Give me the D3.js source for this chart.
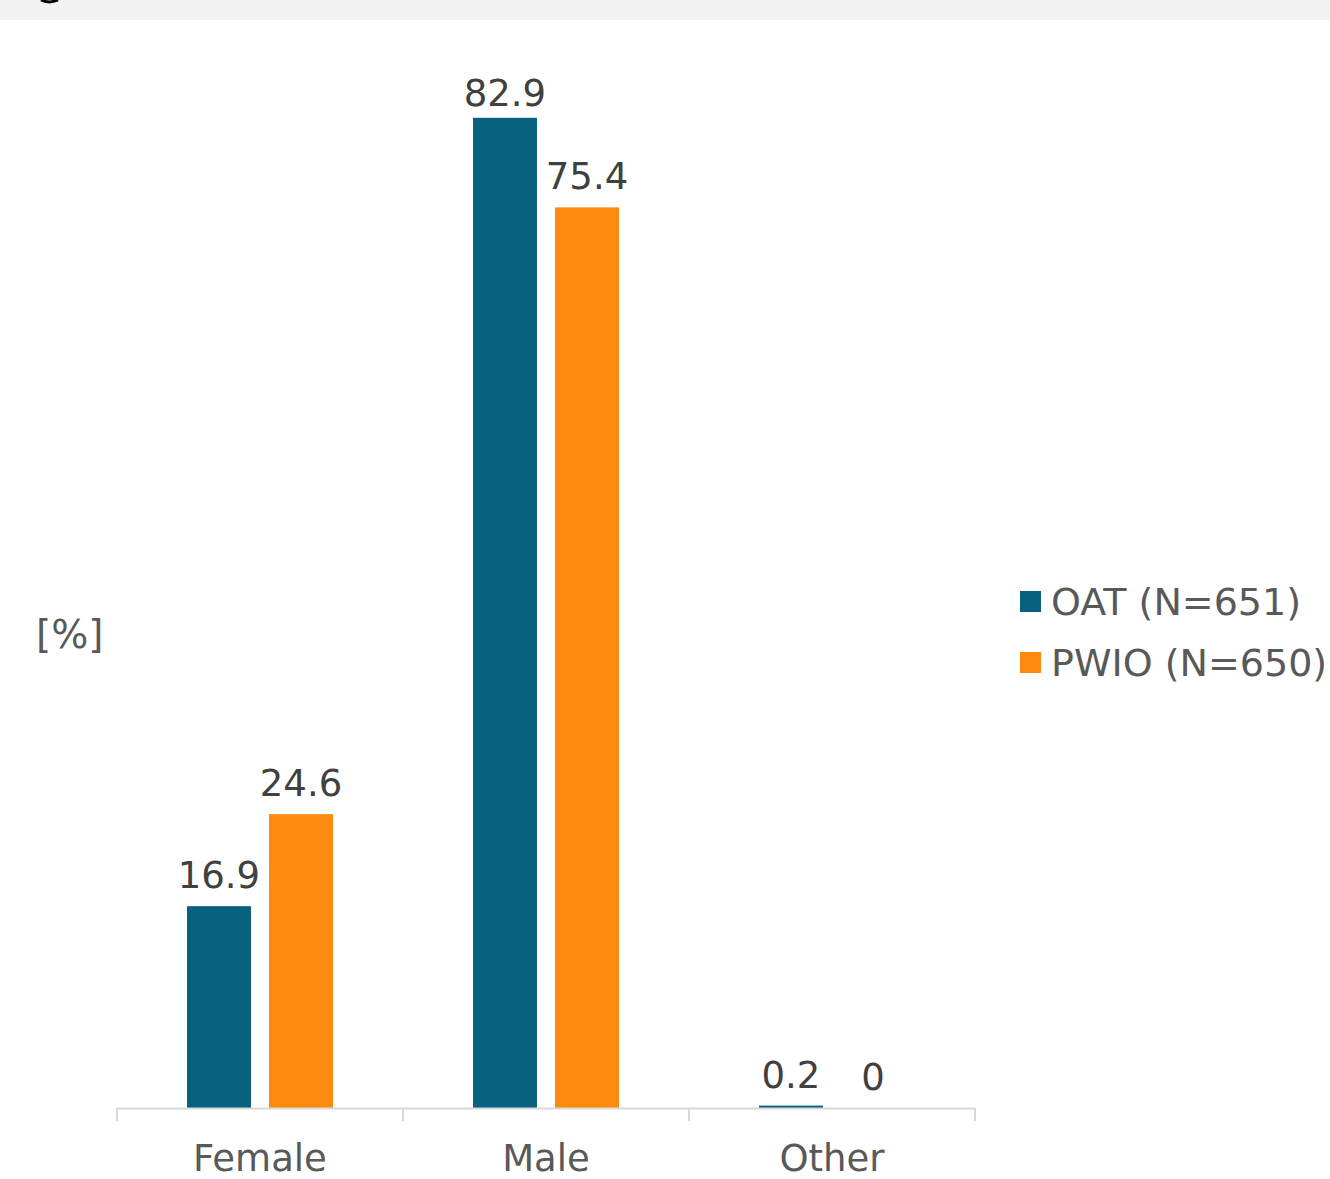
<!DOCTYPE html>
<html>
<head>
<meta charset="utf-8">
<script src="https://cdn.jsdelivr.net/npm/d3@7"></script>
<style>
	body { margin: 0; background: #fff; }
	svg { display: block; font-family: "DejaVu Sans", Verdana, sans-serif; }
</style>
</head>
<body>
<div id="graph"></div>
<script>
var width = 1330
var height = 1179

var categories = ["Female", "Male", "Other"];
var seriesNames = ["OAT (N=651)", "PWIO (N=650)"];
var oatValues = [16.9, 82.9, 0.2];
var pwioValues = [24.6, 75.4, 0];
var valueLabels = [["16.9", "82.9", "0.2"], ["24.6", "75.4", "0"]];
var colors = ["#08627f", "#ff8a10"];

var svg = d3.select("#graph")
	.append("svg")
	.attr("width", width)
	.attr("height", height);

// grey band at the top (cut off title)
svg.append("rect")
	.attr("x", 0)
	.attr("y", 0)
	.attr("width", width)
	.attr("height", 20)
	.attr("fill", "#f2f2f2");

svg.append("path")
	.attr("d", "M41,0 Q49,4 58,0")
	.attr("fill", "none")
	.attr("stroke", "#000")
	.attr("stroke-width", 3);

var x = d3.scaleBand()
	.domain(categories)
	.range([117, 975]);

var x1 = d3.scaleBand()
	.domain([0, 1])
	.range([70, 216])
	.paddingInner(0.22);

var y = d3.scaleLinear()
	.domain([0, 90])
	.range([1108, 33]);

var data = [];
categories.forEach((c, i) => {
	data.push({ cat: c, s: 0, v: oatValues[i], label: valueLabels[0][i] });
	data.push({ cat: c, s: 1, v: pwioValues[i], label: valueLabels[1][i] });
});

svg.selectAll("rect.bar")
	.data(data)
	.enter()
	.append("rect")
	.attr("class", "bar")
	.attr("x", (d) => x(d.cat) + x1(d.s))
	.attr("y", (d) => y(d.v))
	.attr("width", x1.bandwidth())
	.attr("height", (d) => y(0) - y(d.v))
	.attr("fill", (d) => colors[d.s]);

svg.selectAll("text.val")
	.data(data)
	.enter()
	.append("text")
	.attr("class", "val")
	.attr("x", (d) => x(d.cat) + x1(d.s) + x1.bandwidth() / 2)
	.attr("y", (d) => Math.max(y(d.v) - 18, 106))
	.attr("text-anchor", "middle")
	.attr("font-size", 37)
	.attr("fill", "#404040")
	.text((d) => d.label);

// axis
var axis = svg.append("g");
axis.append("line")
	.attr("x1", 117)
	.attr("x2", 975)
	.attr("y1", y(0) + 0.5)
	.attr("y2", y(0) + 0.5)
	.attr("stroke", "#d9d9d9")
	.attr("stroke-width", 2);

var tickPos = categories.map((c) => x(c)).concat([x.range()[1]]);
axis.selectAll("line.tick")
	.data(tickPos)
	.enter()
	.append("line")
	.attr("class", "tick")
	.attr("x1", (d) => d)
	.attr("x2", (d) => d)
	.attr("y1", y(0))
	.attr("y2", y(0) + 13)
	.attr("stroke", "#d9d9d9")
	.attr("stroke-width", 2);

axis.selectAll("text.cat")
	.data(categories)
	.enter()
	.append("text")
	.attr("class", "cat")
	.attr("x", (d) => x(d) + x.bandwidth() / 2)
	.attr("y", 1171)
	.attr("text-anchor", "middle")
	.attr("font-size", 37)
	.attr("fill", "#595959")
	.text((d) => d);

svg.append("text")
	.attr("x", 36)
	.attr("y", 648)
	.attr("font-size", 39)
	.attr("fill", "#595959")
	.text("[%]");

// legend
var legend = svg.append("g")
	.selectAll("g")
	.data(seriesNames)
	.enter()
	.append("g")
	.attr("transform", (d, i) => "translate(1020," + (591 + i * 61) + ")");

legend.append("rect")
	.attr("width", 21)
	.attr("height", 21)
	.attr("fill", (d, i) => colors[i]);

legend.append("text")
	.attr("x", 31)
	.attr("y", 24)
	.attr("font-size", 38)
	.attr("fill", "#595959")
	.text((d) => d);
</script>
</body>
</html>
